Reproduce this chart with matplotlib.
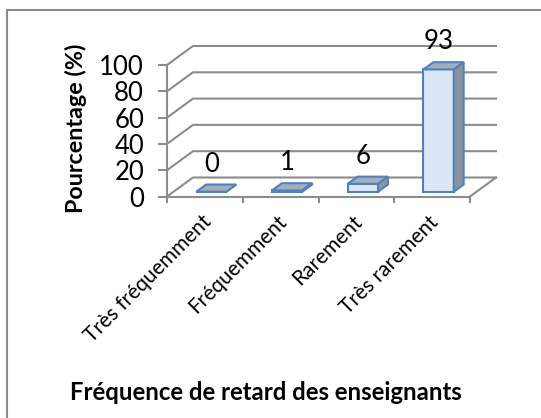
#!/usr/bin/env python
# 3D-looking bar chart (Excel style) drawn with plain matplotlib patches
import numpy as np
import matplotlib.pyplot as plt
from matplotlib.patches import Polygon, Rectangle

output_file = 'out.png'

# data
categories = ['Très fréquemment', 'Fréquemment', 'Rarement', 'Très rarement']
percentages = [0, 1, 6, 93]
yticks = [0, 20, 40, 60, 80, 100]

plt.rcParams['font.family'] = ['Lato', 'DejaVu Sans']

grid_color = '#8c8c8c'
front_color = '#dae7f6'
top_color = '#a3afbc'
side_color = '#8b949d'
edge_color = '#4f81bd'

# depth of the fake 3D box (data units)
dx = 0.343
dy = 14.45
f0, f1 = 0.25, 0.63   # front / back of the bars inside the depth
width = 0.4

fig = plt.figure(figsize=(5.41, 4.18), dpi=100)
ax = fig.add_axes([0.3087, 0.5299, 0.6105, 0.3634])
ax.set_xlim(-0.5, 3.86)
ax.set_ylim(0, 115.5)
ax.patch.set_visible(False)

# walls: gridlines on side wall + back wall
for v in yticks:
  ax.plot([-0.5, -0.5 + dx, 3.5 + dx], [v, v + dy, v + dy],
          color=grid_color, lw=1.5, zorder=1, clip_on=False)
# right edge of the floor
ax.plot([3.5, 3.5 + dx], [0, dy], color=grid_color, lw=1.5, zorder=1,
        clip_on=False)

# bars
ind = np.arange(len(categories))
xs = ind + dx * f0
b = dy * f0
ddx = dx * (f1 - f0)
ddy = dy * (f1 - f0)
ax.bar(xs, percentages, width, bottom=b, color=front_color,
       edgecolor=edge_color, linewidth=1.5, zorder=3)
for x, v in zip(xs, percentages):
  xl, xr = x - width / 2, x + width / 2
  top = Polygon([(xl, v + b), (xr, v + b), (xr + ddx, v + b + ddy),
                 (xl + ddx, v + b + ddy)], closed=True, facecolor=top_color,
                edgecolor=edge_color, linewidth=1.5, zorder=3)
  ax.add_patch(top)
  if v > 0:
    side = Polygon([(xr, b), (xr, v + b), (xr + ddx, v + b + ddy),
                    (xr + ddx, b + ddy)], closed=True, facecolor=side_color,
                   edgecolor=edge_color, linewidth=1.5, zorder=3)
    ax.add_patch(side)
  ax.annotate(str(v), (x, v + b), xytext=(0, 19.8), textcoords='offset points',
              ha='center', va='center', fontsize=18.5, color='black')

# axes / spines
for s in ['top', 'right']:
  ax.spines[s].set_visible(False)
for s in ['left', 'bottom']:
  ax.spines[s].set_color(grid_color)
  ax.spines[s].set_linewidth(1.5)
ax.spines['left'].set_bounds(0, 100)
ax.spines['bottom'].set_bounds(-0.5, 3.5)

ax.set_yticks(yticks)
ax.tick_params(axis='y', length=6.5, width=1.5, color=grid_color,
               labelsize=18.5, pad=10)
ax.set_xticks(np.arange(-0.5, 4.0, 1.0))
ax.set_xticklabels([])
ax.tick_params(axis='x', which='major', length=4.5, width=1.5,
               color=grid_color)
ax.set_xticks(ind + 0.04, minor=True)
ax.set_xticklabels(categories, minor=True, rotation=45, ha='right',
                   va='center', rotation_mode='anchor', fontsize=15)
ax.tick_params(axis='x', which='minor', length=0, pad=16)

fig.text(76 / 541, 1 - 128 / 418, 'Pourcentage (%)', rotation=90,
         ha='center', va='center', fontsize=16.8, fontweight='bold')
fig.text(266 / 541, 1 - 393 / 418, 'Fréquence de retard des enseignants',
         ha='center', va='center', fontsize=17.2, fontweight='bold')

# chart area frame
fig.patches.append(Rectangle((7 / 541, -0.1), 1.1, 1 - 10 / 418 + 0.1,
                             transform=fig.transFigure, fill=False,
                             edgecolor=grid_color, linewidth=1.5))

plt.savefig(output_file, dpi=100)
print('Saved to', output_file)
